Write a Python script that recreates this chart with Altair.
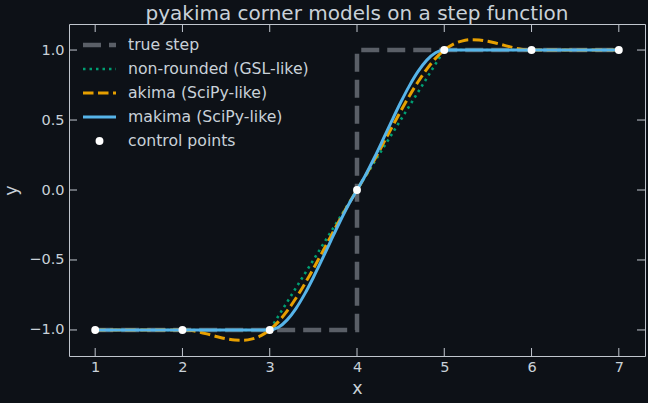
import altair as alt
import pandas as pd

# ---------------- data ----------------
title_text = "pyakima corner models on a step function"

x_step = [1, 4, 4, 7]
y_step = [-1, -1, 1, 1]

x_ctrl = [1, 2, 3, 4, 5, 6, 7]
y_ctrl = [-1, -1, -1, 0, 1, 1, 1]

x_gsl = [1, 3, 4, 5, 7]
y_gsl = [-1, -1, 0, 1, 1]

x_curve = [1, 2,
           2.1, 2.2, 2.3, 2.4, 2.5, 2.6, 2.7, 2.8, 2.9, 3,
           3.1, 3.2, 3.3, 3.4, 3.5, 3.6, 3.7, 3.8, 3.9, 4,
           4.1, 4.2, 4.3, 4.4, 4.5, 4.6, 4.7, 4.8, 4.9, 5,
           5.1, 5.2, 5.3, 5.4, 5.5, 5.6, 5.7, 5.8, 5.9, 6, 7]

y_akima = [-1, -1,
           -1.0045, -1.016, -1.0315, -1.048, -1.0625, -1.072, -1.0735, -1.064, -1.0405, -1,
           -0.9405, -0.864, -0.7735, -0.672, -0.5625, -0.448, -0.3315, -0.216, -0.1045, 0,
           0.1045, 0.216, 0.3315, 0.448, 0.5625, 0.672, 0.7735, 0.864, 0.9405, 1,
           1.0405, 1.064, 1.0735, 1.072, 1.0625, 1.048, 1.0315, 1.016, 1.0045, 1, 1]

y_makima = [-1, -1,
            -1, -1, -1, -1, -1, -1, -1, -1, -1, -1,
            -0.981, -0.928, -0.847, -0.744, -0.625, -0.496, -0.363, -0.232, -0.109, 0,
            0.109, 0.232, 0.363, 0.496, 0.625, 0.744, 0.847, 0.928, 0.981, 1,
            1, 1, 1, 1, 1, 1, 1, 1, 1, 1, 1]

x_ticks = [1, 2, 3, 4, 5, 6, 7]
y_ticks = [-1.0, -0.5, 0.0, 0.5, 1.0]

legend_labels = ["true step", "non-rounded (GSL-like)", "akima (SciPy-like)",
                 "makima (SciPy-like)", "control points"]

# ---------------- style ----------------
W, H = 576, 332
BG = "#0d1117"
FG = "#c9d1d9"
SPINE = "#c0c6ce"
FONT = "DejaVu Sans"
C_STEP = "#5a5f67"
C_GSL = "#009e73"
C_AKIMA = "#e69f00"
C_MAKIMA = "#56b4e9"
TICK = 8

xs = alt.Scale(domain=[0.7, 7.3], nice=False, zero=False)
ys = alt.Scale(domain=[-1.186, 1.186], nice=False, zero=False)

x_axis = alt.Axis(values=x_ticks, format="d", title="x", ticks=False, domain=False,
                  grid=False, labelFont=FONT, labelFontSize=14.5, labelColor=FG,
                  labelPadding=4, labelFlush=False, titleFont=FONT, titleFontSize=17.5,
                  titleFontWeight="normal", titleColor=FG, titlePadding=6)
y_axis = alt.Axis(values=y_ticks, format=".1f", title="y", ticks=False, domain=False,
                  grid=False, labelFont=FONT, labelFontSize=14.5, labelColor=FG,
                  labelPadding=5, labelFlush=False, titleFont=FONT, titleFontSize=17.5,
                  titleFontWeight="normal", titleColor=FG, titlePadding=8)

X = alt.X("x:Q", scale=xs, axis=x_axis)
Y = alt.Y("y:Q", scale=ys, axis=y_axis)

step_df = pd.DataFrame({"x": x_step, "y": y_step, "i": list(range(len(x_step)))})
gsl_df = pd.DataFrame({"x": x_gsl, "y": y_gsl})
akima_df = pd.DataFrame({"x": x_curve, "y": y_akima})
makima_df = pd.DataFrame({"x": x_curve, "y": y_makima})
ctrl_df = pd.DataFrame({"x": x_ctrl, "y": y_ctrl})
xt_df = pd.DataFrame({"x": x_ticks})
yt_df = pd.DataFrame({"y": y_ticks})
one = pd.DataFrame({"k": [0]})

step = alt.Chart(step_df).mark_line(color=C_STEP, strokeWidth=4.5, strokeDash=[18, 8]).encode(
    x=X, y=Y, order="i:Q")
gsl = alt.Chart(gsl_df).mark_line(color=C_GSL, strokeWidth=2.6, strokeDash=[2.5, 4]).encode(x=X, y=Y)
akima = alt.Chart(akima_df).mark_line(color=C_AKIMA, strokeWidth=3, strokeDash=[10.5, 4.5],
                                      interpolate="monotone").encode(x=X, y=Y)
makima = alt.Chart(makima_df).mark_line(color=C_MAKIMA, strokeWidth=3,
                                        interpolate="monotone").encode(x=X, y=Y)
pts = alt.Chart(ctrl_df).mark_circle(size=62, color="white", opacity=1).encode(x=X, y=Y)

tick_style = dict(color=SPINE, strokeWidth=1)
t_bot = alt.Chart(xt_df).mark_rule(**tick_style).encode(x=X, y=alt.value(H), y2=alt.value(H - TICK))
t_top = alt.Chart(xt_df).mark_rule(**tick_style).encode(x=X, y=alt.value(0), y2=alt.value(TICK))
t_left = alt.Chart(yt_df).mark_rule(**tick_style).encode(y=Y, x=alt.value(0), x2=alt.value(TICK))
t_right = alt.Chart(yt_df).mark_rule(**tick_style).encode(y=Y, x=alt.value(W), x2=alt.value(W - TICK))

# legend (drawn manually, top-left inside the plot)
leg_styles = [
    dict(color=C_STEP, strokeWidth=4.5, strokeDash=[18, 8]),
    dict(color=C_GSL, strokeWidth=2.6, strokeDash=[2.5, 4]),
    dict(color=C_AKIMA, strokeWidth=3, strokeDash=[10.5, 4.5]),
    dict(color=C_MAKIMA, strokeWidth=3),
]
LX0, LX1, LTX, LY0, LDY = 14, 47, 59, 21, 24
legend_layers = []
for i, lab in enumerate(legend_labels):
    yy = LY0 + LDY * i
    if i < 4:
        legend_layers.append(
            alt.Chart(one).mark_rule(**leg_styles[i]).encode(
                x=alt.value(LX0), x2=alt.value(LX1), y=alt.value(yy)))
    else:
        legend_layers.append(
            alt.Chart(one).mark_circle(size=62, color="white", opacity=1).encode(
                x=alt.value((LX0 + LX1) / 2), y=alt.value(yy)))
    legend_layers.append(
        alt.Chart(one).mark_text(align="left", baseline="middle", font=FONT,
                                 fontSize=15.7, color=FG).encode(
            x=alt.value(LTX), y=alt.value(yy), text=alt.value(lab)))

chart = alt.layer(step, gsl, akima, makima, pts, t_bot, t_top, t_left, t_right,
                  *legend_layers).properties(
    width=W, height=H,
    title=alt.TitleParams(text=title_text, font=FONT, fontSize=20, fontWeight="normal",
                          color=FG, anchor="middle", offset=0),
    background=BG,
    padding={"left": 69, "top": 24, "right": 3, "bottom": 47},
    autosize=alt.AutoSizeParams(type="none"),
).configure_view(stroke=SPINE, strokeWidth=1)

chart.save("out.html", embed_options={"renderer": "svg", "actions": False})
